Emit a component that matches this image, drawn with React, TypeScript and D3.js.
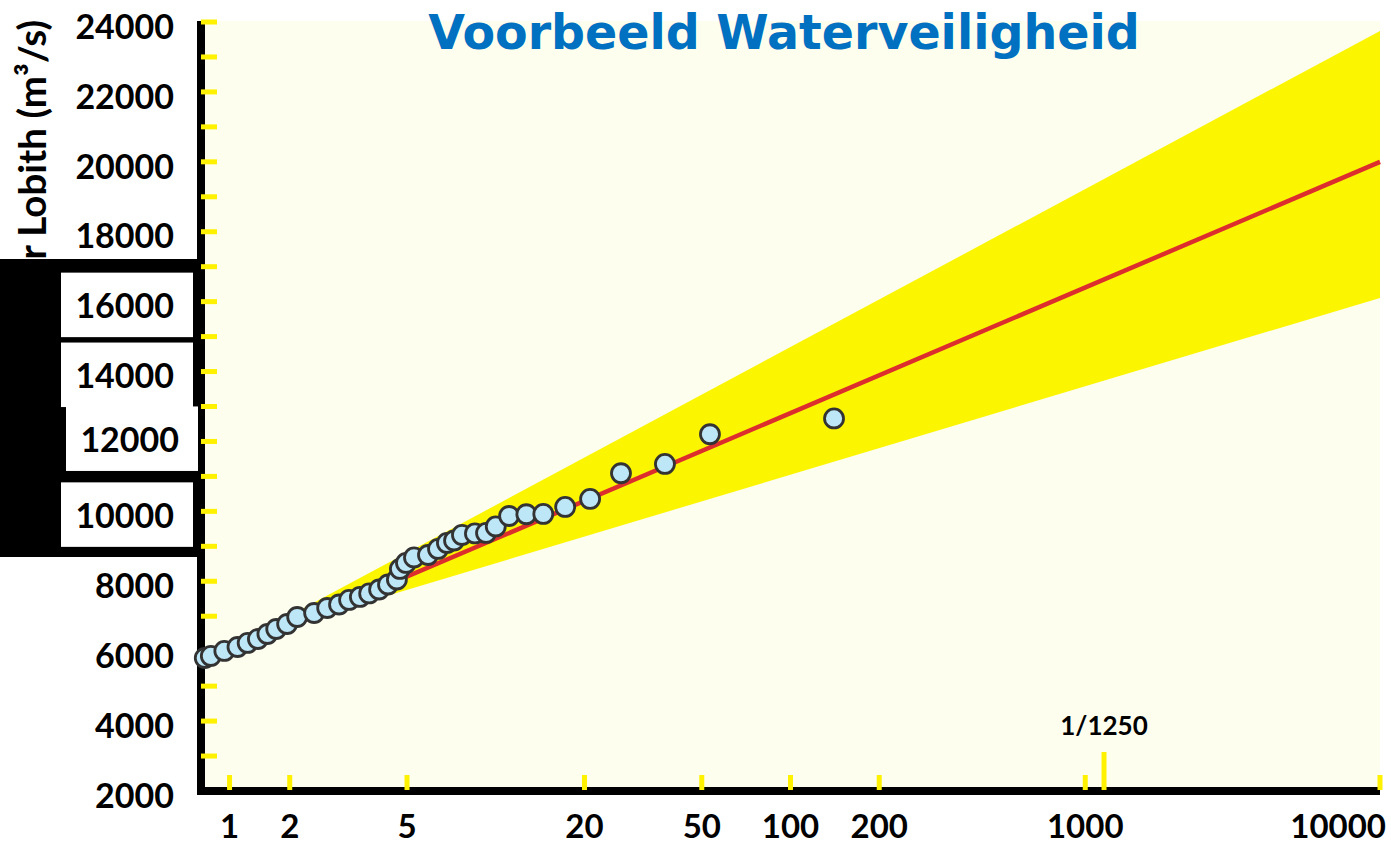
import React from "react";
import * as d3 from "d3";

// ---- data ----
const returnPeriods = [
  1.03, 1.08, 1.2, 1.33, 1.44, 1.56, 1.68, 1.8, 1.96, 2.12,
  2.42, 2.68, 2.94, 3.18, 3.46, 3.72, 4.02, 4.31, 4.62, 4.73,
  4.96, 5.28, 5.89, 6.37, 6.83, 7.22, 7.68, 8.5, 9.27, 10.0,
  11.1, 12.7, 14.5, 17.2, 20.9, 26.6, 37.5, 53.3, 140.5,
];
const discharges = [
  5805, 5863, 6006, 6120, 6235, 6349, 6492, 6635, 6778, 6978,
  7093, 7236, 7336, 7465, 7551, 7651, 7765, 7908, 8051, 8352,
  8524, 8681, 8752, 8924, 9096, 9167, 9325, 9368, 9382, 9568,
  9868, 9917, 9926, 10126, 10355, 11090, 11356, 12206, 12658,
];
const fitT = [1, 10000];
const fitQ = [5622, 20000];
const bandT = [1.47, 10000];
const bandUpper = [6412, 23745];
const bandLower = [6412, 16106];

const yTickLabels = [2000, 4000, 6000, 8000, 10000, 12000, 14000, 16000, 18000, 20000, 22000, 24000];
const boxedLabels = [16000, 14000, 12000, 10000];
const xTickValues = [1.25, 2, 5, 20, 50, 100, 200, 1000, 10000];
const xTickLabels = ["1", "2", "5", "20", "50", "100", "200", "1000", "10000"];
const markerT = 1158;
const markerLabel = "1/1250";
const title = "Voorbeeld Waterveiligheid";
const yTitleHidden = "Afvoe";
const yTitleVisible = "r Lobith (m³/s)";

// ---- layout ----
const W = 1391;
const H = 845;
const X0 = 201;
const X1 = 1380;
const Y0 = 791;
const Y1 = 22;

const boxLayout: Record<number, { dx: number; dy: number }> = {
  16000: { dx: 0, dy: 0 },
  14000: { dx: 0, dy: 0 },
  12000: { dx: 5, dy: -6 },
  10000: { dx: 0, dy: 0 },
};

const LABEL_FONT = "Lato, 'Open Sans', sans-serif";

export default function App() {
  const x = d3.scaleLog().domain([1, 10000]).range([X0, X1]);
  const y = d3.scaleLinear().domain([2000, 24000]).range([Y0, Y1]);

  const fitLine = d3
    .line<number>()
    .x((_, i) => x(fitT[i]))
    .y((d) => y(d))(fitQ);

  const bandPts: [number, number][] = [
    ...bandT.map((t, i) => [x(t), y(bandUpper[i])] as [number, number]),
    ...bandT
      .map((t, i) => [x(t), y(bandLower[i])] as [number, number])
      .reverse(),
  ];
  const bandPath = d3.line()(bandPts) + "Z";

  const minorTicks = y.ticks(22).filter((v) => v > 2000);

  return (
    <svg
      width={W}
      height={H}
      style={{ position: "absolute", left: 0, top: 0, background: "#ffffff" }}
    >
      {/* plot background */}
      <rect x={205} y={21} width={X1 - 205} height={787 - 21} fill="#FEFEEF" />

      {/* confidence band */}
      <path d={bandPath} fill="#FBF500" />

      {/* fitted line */}
      <path d={fitLine || ""} fill="none" stroke="#DD2E2E" strokeWidth={4.5} />

      {/* axes */}
      <rect x={197} y={21} width={8} height={795 - 21} fill="#000" />
      <rect x={197} y={787} width={X1 - 197} height={8} fill="#000" />

      {/* y minor ticks */}
      {minorTicks.map((v) => (
        <rect key={"yt" + v} x={201} y={y(v) - 2.5} width={16} height={5} fill="#FFF200" />
      ))}

      {/* x ticks */}
      {xTickValues.map((v) => (
        <rect key={"xt" + v} x={x(v) - 2.5} y={775} width={5} height={15} fill="#FFF200" />
      ))}

      {/* marker */}
      <rect x={x(markerT) - 2.5} y={752} width={5} height={38} fill="#FFF200" />
      <text
        x={x(markerT)}
        y={735}
        textAnchor="middle"
        fontFamily={LABEL_FONT}
        fontWeight="bold"
        fontSize={26}
        fill="#000"
      >
        {markerLabel}
      </text>

      {/* data points */}
      {returnPeriods.map((t, i) => (
        <circle
          key={"p" + i}
          cx={x(t)}
          cy={y(discharges[i])}
          r={9.5}
          fill="#BDE6F7"
          stroke="#333333"
          strokeWidth={2.8}
        />
      ))}

      {/* y axis title (partly hidden behind the black block) */}
      <text
        transform="translate(46,8) rotate(-90)"
        textAnchor="end"
        fontFamily={LABEL_FONT}
        fontWeight="bold"
        fontSize={38.5}
        fill="#000"
      >
        <tspan dx={-12}>{yTitleHidden}</tspan>
        <tspan dx={12}>{yTitleVisible}</tspan>
      </text>

      {/* black block behind boxed labels */}
      <rect x={0} y={259} width={197} height={298} fill="#000" />
      {boxedLabels.map((v) => {
        const b = boxLayout[v];
        return (
          <rect
            key={"box" + v}
            x={61 + b.dx}
            y={y(v) - 29 + b.dy}
            width={132}
            height={64.5}
            fill="#fff"
          />
        );
      })}

      {/* y tick labels */}
      {yTickLabels.map((v) => {
        const b = boxLayout[v] || { dx: 0, dy: 0 };
        return (
          <text
            key={"yl" + v}
            x={174 + b.dx}
            y={y(v) + 16.7 + b.dy}
            textAnchor="end"
            fontFamily={LABEL_FONT}
            fontWeight="bold"
            fontSize={34}
            fill="#000"
          >
            {v}
          </text>
        );
      })}

      {/* x tick labels */}
      {xTickValues.map((v, i) => {
        const last = i === xTickValues.length - 1;
        return (
          <text
            key={"xl" + v}
            x={last ? 1386 : x(v)}
            y={838}
            textAnchor={last ? "end" : "middle"}
            fontFamily={LABEL_FONT}
            fontWeight="bold"
            fontSize={33}
            fill="#000"
          >
            {xTickLabels[i]}
          </text>
        );
      })}

      {/* title */}
      <text
        x={784}
        y={49}
        textAnchor="middle"
        fontFamily="'DejaVu Sans', Verdana, sans-serif"
        fontWeight="bold"
        fontSize={47.5}
        fill="#0070C0"
      >
        {title}
      </text>
    </svg>
  );
}
